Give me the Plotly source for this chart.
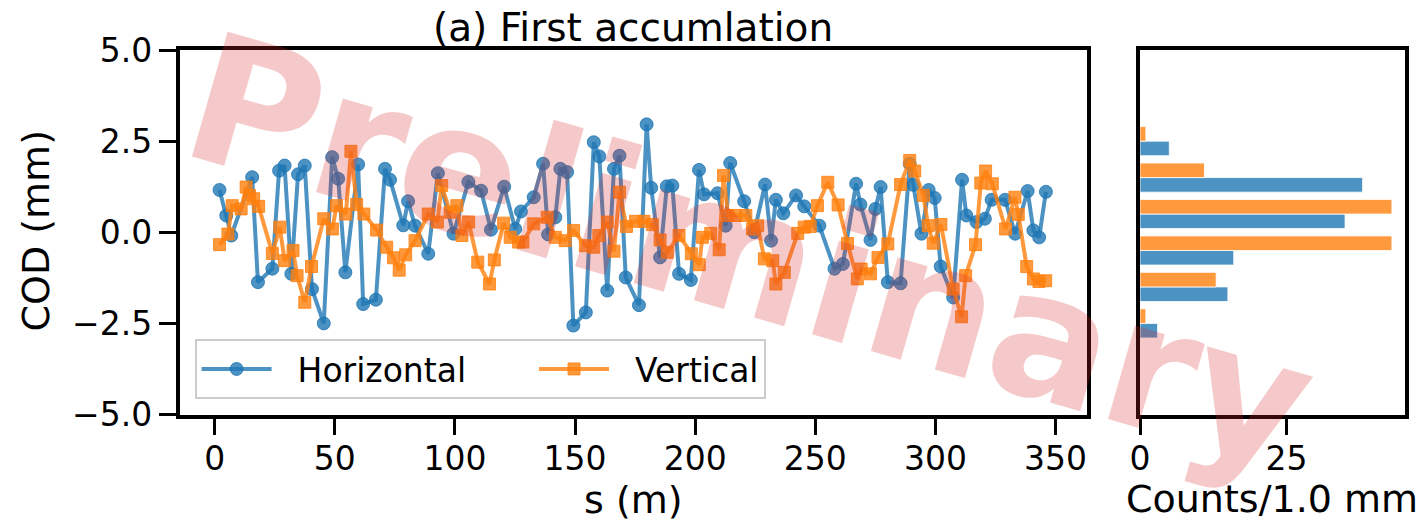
import plotly.graph_objects as go

# ---------------- data ----------------
s_h = [2.0, 4.8, 6.9, 15.6, 18.0, 24.0, 26.8, 29.1, 31.9, 34.7, 37.5, 40.5, 45.4, 48.9,
       51.4, 54.4, 59.7, 61.8, 67.1, 70.9, 73.0, 78.5, 80.5, 83.4, 88.9, 92.9, 99.4,
       105.6, 110.9, 115.0, 120.5, 125.1, 127.5, 132.8, 136.7, 138.8, 141.8, 143.9,
       146.7, 149.3, 154.5, 157.8, 160.1, 163.4, 166.2, 168.5, 171.1, 176.6, 179.8,
       181.7, 185.4, 188.2, 190.5, 193.3, 198.2, 201.6, 203.7, 209.3, 212.7, 214.6,
       220.4, 224.6, 229.1, 231.6, 233.6, 236.7, 242.0, 245.4, 251.7, 258.0, 261.5,
       267.0, 268.8, 273.0, 275.0, 277.2, 280.2, 285.5, 289.3, 290.8, 294.2, 297.2,
       299.7, 302.2, 307.4, 311.1, 312.9, 317.1, 320.6, 323.4, 329.0, 333.2, 338.4,
       340.8, 343.2, 346.0]
cod_h = [1.16, 0.46, -0.09, 1.51, -1.37, -1.0, 1.69, 1.83, -1.14, 1.59, 1.83, -1.56, -2.5,
         2.06, 1.47, -1.1, 1.86, -1.97, -1.85, 1.74, 1.44, 0.19, 0.85, 0.18, -0.59, 1.62,
         -0.04, 1.38, 1.14, 0.07, 1.25, 0.09, 0.57, 0.96, 1.88, -0.06, 0.41, 1.74, 1.65,
         -2.56, -2.2, 2.47, 2.08, -1.6, 1.74, 2.1, -1.24, -2.0, 2.96, 1.22, -0.69, 1.26,
         1.28, -1.14, -1.31, 1.71, 1.04, 1.07, 0.18, 1.9, 0.85, 0.0, 1.31, -0.23, 0.89,
         0.52, 1.01, 0.71, 0.18, -1.0, -0.87, 1.33, 0.76, -0.21, 0.64, 1.24, -1.37, -1.4,
         1.88, 1.3, -0.04, 1.16, 0.94, -0.94, -1.79, 1.44, 0.46, 0.28, 0.37, 0.89, 0.89,
         -0.04, 1.13, 0.05, -0.14, 1.11]

s_v = [2.0, 5.5, 7.3, 11.0, 13.1, 14.5, 16.2, 18.3, 24.0, 27.1, 29.1, 32.6, 34.3, 37.5,
       40.3, 45.4, 49.0, 50.7, 54.6, 56.7, 59.1, 62.1, 67.4, 71.6, 74.4, 76.8, 79.5,
       83.4, 88.9, 92.7, 94.5, 98.0, 100.8, 102.9, 105.7, 109.5, 114.4, 116.4, 120.3,
       123.0, 126.5, 128.3, 132.8, 138.4, 141.8, 145.9, 149.4, 154.3, 157.8, 159.9,
       163.4, 166.2, 168.5, 171.4, 175.2, 178.7, 182.2, 185.4, 188.4, 193.3, 198.4,
       201.7, 203.0, 206.5, 210.0, 211.8, 213.7, 216.9, 221.1, 223.9, 226.0, 228.8,
       232.3, 233.6, 237.1, 242.7, 245.4, 247.9, 250.9, 255.2, 259.5, 263.4, 267.5,
       269.1, 273.0, 276.1, 280.2, 285.5, 289.3, 291.4, 295.0, 297.0, 299.1, 302.3,
       307.4, 310.9, 312.6, 316.7, 318.9, 320.9, 323.7, 329.2, 333.1, 334.5, 338.0,
       340.8, 343.1, 345.9]
cod_v = [-0.34, -0.05, 0.73, 0.64, 1.24, 1.01, 0.92, 0.71, -0.58, 0.14, -0.78, -0.5, -1.19,
         -1.92, -0.94, 0.37, 0.09, 0.73, 0.5, 2.22, 0.76, 0.5, 0.06, -0.41, -0.7, -1.04,
         -0.62, -0.23, 0.5, 0.28, 1.28, 0.55, 0.73, -0.09, 0.28, -0.82, -1.42, -0.76, 0.25,
         -0.14, -0.27, -0.27, 0.23, 0.41, -0.14, -0.23, 0.05, -0.37, -0.41, -0.09, 0.28,
         -0.52, 1.1, 0.16, 0.3, 0.3, 0.21, -0.21, -0.55, -0.09, -0.59, -0.89, -0.14, -0.03,
         -0.48, 1.56, 0.46, 0.46, 0.46, 0.09, 0.18, -0.73, -0.78, -1.42, -1.1, -0.03, 0.14,
         0.16, 0.73, 1.37, 0.75, -0.31, -1.28, -1.01, -1.14, -0.69, -0.32, 1.31, 1.97, 1.68,
         1.01, 0.18, -0.3, 0.21, -1.56, -2.32, -1.19, -0.34, 1.35, 1.68, 1.33, 0.09, 0.96,
         0.49, -0.94, -1.28, -1.35, -1.33]

bin_centers = [-2.5, -1.5, -0.5, 0.5, 1.5, 2.5]
counts_h = [3, 15, 16, 35, 38, 5]
counts_v = [1, 13, 43, 43, 11, 1]

x_ticks = [0, 50, 100, 150, 200, 250, 300, 350]
y_ticks = [-5.0, -2.5, 0.0, 2.5, 5.0]
hist_ticks = [0, 25]

# ---------------- styling ----------------
W, H = 1425, 520
FONT = "DejaVu Sans"
BLUE = "rgba(31,119,180,0.8)"
ORANGE = "rgba(255,127,14,0.8)"
BIN_W = 1.0
BAR_W = 0.4 * BIN_W
NB = "\u00a0"

fig = go.Figure()

fig.add_trace(go.Scatter(
    x=s_h, y=cod_h, mode="lines+markers", name=NB * 2 + "Horizontal" + NB * 6,
    line=dict(color=BLUE, width=4),
    marker=dict(symbol="circle", size=13, color=BLUE, line=dict(width=1, color=BLUE)),
    xaxis="x", yaxis="y"))
fig.add_trace(go.Scatter(
    x=s_v, y=cod_v, mode="lines+markers", name=NB * 2 + "Vertical",
    line=dict(color=ORANGE, width=4),
    marker=dict(symbol="square", size=12, color=ORANGE, line=dict(width=1, color=ORANGE)),
    xaxis="x", yaxis="y"))

fig.add_trace(go.Bar(
    y=bin_centers, x=counts_h, orientation="h", width=BAR_W, offset=-BAR_W,
    marker=dict(color=BLUE, line=dict(width=1, color="rgba(255,255,255,0.8)")),
    showlegend=False, xaxis="x2", yaxis="y2"))
fig.add_trace(go.Bar(
    y=bin_centers, x=counts_v, orientation="h", width=BAR_W, offset=0,
    marker=dict(color=ORANGE, line=dict(width=1, color="rgba(255,255,255,0.8)")),
    showlegend=False, xaxis="x2", yaxis="y2"))

axis_common = dict(showline=True, linewidth=3.5, linecolor="black", mirror=True,
                   ticks="outside", ticklen=17, tickwidth=3, tickcolor="black",
                   showgrid=False, zeroline=False, automargin=False,
                   tickfont=dict(family=FONT, size=33, color="black"))

y_dom = [(H - 414.5) / H, (H - 50) / H]

fig.update_layout(
    template="none",
    width=W, height=H,
    margin=dict(l=0, r=0, t=0, b=0, autoexpand=False),
    paper_bgcolor="white", plot_bgcolor="white",
    font=dict(family=FONT, color="black"),
    barmode="overlay",
    xaxis=dict(domain=[179.5 / W, 1086.5 / W], range=[-14.65, 362.9],
               tickvals=x_ticks, anchor="y", ticklabelstandoff=-5, **axis_common),
    yaxis=dict(domain=y_dom, range=[-5, 5], tickvals=y_ticks, tickformat=".1f",
               anchor="x", **axis_common),
    xaxis2=dict(domain=[1140 / W, 1404.5 / W], range=[0, 45.15], tickvals=hist_ticks,
                anchor="y2", ticklabelstandoff=-5, **axis_common),
    yaxis2=dict(domain=y_dom, range=[-5, 5], anchor="x2", showticklabels=False,
                showline=True, linewidth=3.5, linecolor="black", mirror=True,
                ticks="", showgrid=False, zeroline=False, automargin=False),
    legend=dict(orientation="h", x=194.6 / W, y=(H - 399) / H, xanchor="left",
                yanchor="bottom", bgcolor="rgba(255,255,255,0.8)", bordercolor="#cccccc",
                borderwidth=2, font=dict(family=FONT, size=33, color="black"),
                itemwidth=70),
    annotations=[
        dict(text="(a) First accumlation", x=633 / W, y=(H - 27) / H, xref="paper",
             yref="paper", showarrow=False, xanchor="center", yanchor="middle",
             font=dict(family=FONT, size=39, color="black")),
        dict(text="s (m)", x=633 / W, y=(H - 500) / H, xref="paper", yref="paper",
             showarrow=False, xanchor="center", yanchor="middle", height=38,
             font=dict(family=FONT, size=38, color="black")),
        dict(text="Counts/1.0 mm", x=1272 / W, y=(H - 499) / H, xref="paper", yref="paper",
             showarrow=False, xanchor="center", yanchor="middle", height=38,
             font=dict(family=FONT, size=38, color="black")),
        dict(text="COD (mm)", x=35 / W, y=(H - 231.5) / H, xref="paper", yref="paper",
             showarrow=False, xanchor="center", yanchor="middle", textangle=-90,
             font=dict(family=FONT, size=38, color="black")),
        dict(text="Preliminary", x=750 / W, y=(H - 252) / H, xref="paper", yref="paper",
             showarrow=False, xanchor="center", yanchor="middle", textangle=16,
             font=dict(family=FONT, size=178, color="rgba(214,39,40,0.25)", weight="bold")),
    ],
)

fig.write_html("out.html")
